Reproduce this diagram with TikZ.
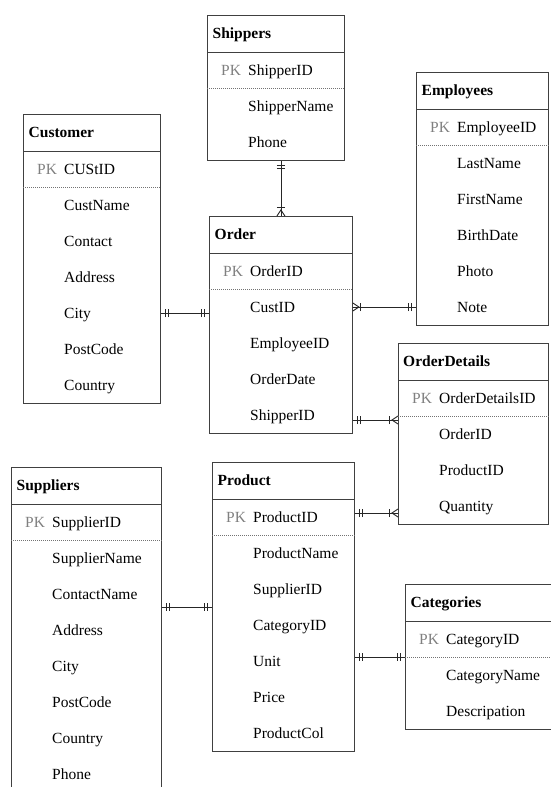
\documentclass[tikz,border=0pt]{standalone}
\usepackage{fontspec}
\setmainfont{Liberation Serif}
\usetikzlibrary{decorations.markings,calc}

\begin{document}
\begin{tikzpicture}[x=1pt,y=-1pt,
    tbl/.style={draw=black!75,line width=0.9pt,anchor=north west,inner sep=0pt},
    headline/.style={draw=black!75,line width=0.9pt},
    keyline/.style={draw=black!55,line width=0.7pt,dash pattern=on 1pt off 1pt},
    field/.style={anchor=west,inner sep=0pt,text height=12pt,text depth=2pt,font=\fontsize{15.5}{18}\selectfont},
    title/.style={field,font=\fontsize{15.5}{18}\selectfont\bfseries},
    pk/.style={field,text=black!50},
    link/.style={draw=black!85,line width=0.9pt},
    startone/.style={postaction={decorate,decoration={markings,
        mark=at position 5pt with {\draw (0,-4pt) -- (0,4pt);},
        mark=at position 8pt with {\draw (0,-4pt) -- (0,4pt);}}}},
    endone/.style={postaction={decorate,decoration={markings,
        mark=at position -5pt with {\draw (0,-4pt) -- (0,4pt);},
        mark=at position -8pt with {\draw (0,-4pt) -- (0,4pt);}}}},
    startmany/.style={postaction={decorate,decoration={markings,
        mark=at position 6pt with {\draw (-6pt,-4pt) -- (0,0) -- (-6pt,4pt);},
        mark=at position 8pt with {\draw (0,-4pt) -- (0,4pt);}}}},
    endmany/.style={postaction={decorate,decoration={markings,
        mark=at position -6pt with {\draw (6pt,-4pt) -- (0,0) -- (6pt,4pt);},
        mark=at position -9pt with {\draw (0,-4pt) -- (0,4pt);}}}}]
    \clip (0,0) rectangle (551,787);
    \fill[white] (0,0) rectangle (551,787);

    % Shippers
    \node[tbl,minimum width=137pt,minimum height=145pt](Shippers)at(207,15){};
    \draw[headline] ([yshift=-37pt]Shippers.north west) -- ([yshift=-37pt]Shippers.north east);
    \draw[keyline] ([yshift=-73pt]Shippers.north west) -- ([yshift=-73pt]Shippers.north east);
    \node[title](ShipTitle)at(212.5,33){Shippers};
    \node[pk](ShipPK)at(221,70){PK};
    \node[field](ShipID)at(248,70){ShipperID};
    \node[field](ShipName)at(248,106){ShipperName};
    \node[field](ShipPhone)at(248,142){Phone};

    % Customer
    \node[tbl,minimum width=137pt,minimum height=289pt](Customer)at(23,114){};
    \draw[headline] ([yshift=-37pt]Customer.north west) -- ([yshift=-37pt]Customer.north east);
    \draw[keyline] ([yshift=-73pt]Customer.north west) -- ([yshift=-73pt]Customer.north east);
    \node[title](CustTitle)at(28.5,132){Customer};
    \node[pk](CustPK)at(37,169){PK};
    \node[field](CustID)at(64,169){CUStID};
    \node[field](CustName)at(64,205){CustName};
    \node[field](CustContact)at(64,241){Contact};
    \node[field](CustAddress)at(64,277){Address};
    \node[field](CustCity)at(64,313){City};
    \node[field](CustPost)at(64,349){PostCode};
    \node[field](CustCountry)at(64,385){Country};

    % Order
    \node[tbl,minimum width=143pt,minimum height=217pt](Order)at(209,216){};
    \draw[headline] ([yshift=-37pt]Order.north west) -- ([yshift=-37pt]Order.north east);
    \draw[keyline] ([yshift=-73pt]Order.north west) -- ([yshift=-73pt]Order.north east);
    \node[title](OrdTitle)at(214.5,234){Order};
    \node[pk](OrdPK)at(223,271){PK};
    \node[field](OrdID)at(250,271){OrderID};
    \node[field](OrdCust)at(250,307){CustID};
    \node[field](OrdEmp)at(250,343){EmployeeID};
    \node[field](OrdDate)at(250,379){OrderDate};
    \node[field](OrdShip)at(250,415){ShipperID};

    % Employees
    \node[tbl,minimum width=132pt,minimum height=253pt](Employees)at(416,72){};
    \draw[headline] ([yshift=-37pt]Employees.north west) -- ([yshift=-37pt]Employees.north east);
    \draw[keyline] ([yshift=-73pt]Employees.north west) -- ([yshift=-73pt]Employees.north east);
    \node[title](EmpTitle)at(421.5,90){Employees};
    \node[pk](EmpPK)at(430,127){PK};
    \node[field](EmpID)at(457,127){EmployeeID};
    \node[field](EmpLast)at(457,163){LastName};
    \node[field](EmpFirst)at(457,199){FirstName};
    \node[field](EmpBirth)at(457,235){BirthDate};
    \node[field](EmpPhoto)at(457,271){Photo};
    \node[field](EmpNote)at(457,307){Note};

    % OrderDetails
    \node[tbl,minimum width=150pt,minimum height=181pt](OrderDetails)at(398,343){};
    \draw[headline] ([yshift=-37pt]OrderDetails.north west) -- ([yshift=-37pt]OrderDetails.north east);
    \draw[keyline] ([yshift=-73pt]OrderDetails.north west) -- ([yshift=-73pt]OrderDetails.north east);
    \node[title](OdTitle)at(403,361){OrderDetails};
    \node[pk](OdPK)at(412,398){PK};
    \node[field](OdID)at(439,398){OrderDetailsID};
    \node[field](OdOrder)at(439,434){OrderID};
    \node[field](OdProduct)at(439,470){ProductID};
    \node[field](OdQty)at(439,506){Quantity};

    % Suppliers
    \node[tbl,minimum width=150pt,minimum height=325pt](Suppliers)at(11,467){};
    \draw[headline] ([yshift=-37pt]Suppliers.north west) -- ([yshift=-37pt]Suppliers.north east);
    \draw[keyline] ([yshift=-73pt]Suppliers.north west) -- ([yshift=-73pt]Suppliers.north east);
    \node[title](SupTitle)at(16.5,485){Suppliers};
    \node[pk](SupPK)at(25,522){PK};
    \node[field](SupID)at(52,522){SupplierID};
    \node[field](SupName)at(52,558){SupplierName};
    \node[field](SupContact)at(52,594){ContactName};
    \node[field](SupAddress)at(52,630){Address};
    \node[field](SupCity)at(52,666){City};
    \node[field](SupPost)at(52,702){PostCode};
    \node[field](SupCountry)at(52,738){Country};
    \node[field](SupPhone)at(52,774){Phone};

    % Product
    \node[tbl,minimum width=142pt,minimum height=289pt](Product)at(212,462){};
    \draw[headline] ([yshift=-37pt]Product.north west) -- ([yshift=-37pt]Product.north east);
    \draw[keyline] ([yshift=-73pt]Product.north west) -- ([yshift=-73pt]Product.north east);
    \node[title](ProdTitle)at(217.5,480){Product};
    \node[pk](ProdPK)at(226,517){PK};
    \node[field](ProdID)at(253,517){ProductID};
    \node[field](ProdName)at(253,553){ProductName};
    \node[field](ProdSup)at(253,589){SupplierID};
    \node[field](ProdCat)at(253,625){CategoryID};
    \node[field](ProdUnit)at(253,661){Unit};
    \node[field](ProdPrice)at(253,697){Price};
    \node[field](ProdCol)at(253,733){ProductCol};

    % Categories
    \node[tbl,minimum width=155pt,minimum height=145pt](Categories)at(405,584){};
    \draw[headline] ([yshift=-37pt]Categories.north west) -- ([yshift=-37pt]Categories.north east);
    \draw[keyline] ([yshift=-73pt]Categories.north west) -- ([yshift=-73pt]Categories.north east);
    \node[title](CatTitle)at(410.5,602){Categories};
    \node[pk](CatPK)at(419,639){PK};
    \node[field](CatID)at(446,639){CategoryID};
    \node[field](CatName)at(446,675){CategoryName};
    \node[field](CatDesc)at(446,711){Descripation};

    % relations
    \draw[link,startone,endmany] (Order.north |- Shippers.south) -- (Order.north);
    \draw[link,startone,endone] (Customer.east |- CustCity) -- (Order.west |- CustCity);
    \draw[link,startmany,endone] (Order.east |- EmpNote) -- (Employees.west |- EmpNote);
    \draw[link,startone,endmany] (Order.east |- OrdShip.base) -- (OrderDetails.west |- OrdShip.base);
    \draw[link,startone,endmany] ($(Product.east |- ProdID)+(0,-4)$) -- ($(OrderDetails.west |- ProdID)+(0,-4)$);
    \draw[link,startone,endone] (Suppliers.east |- Product.west) -- (Product.west);
    \draw[link,startone,endone] (Product.east |- Categories.west) -- (Categories.west);
\end{tikzpicture}
\end{document}
